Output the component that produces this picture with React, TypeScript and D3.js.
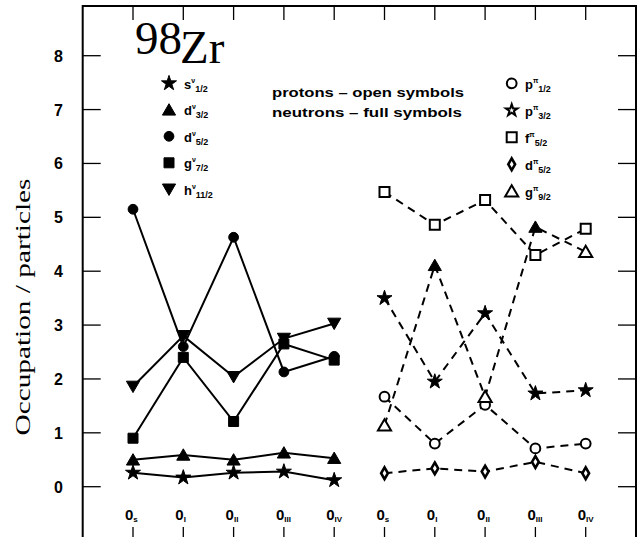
import React from "react";
import * as d3 from "d3";

// ---------- data ----------
const xLabelBase = ["0", "0", "0", "0", "0", "0", "0", "0", "0", "0"];
const xLabelSub = ["s", "I", "II", "III", "IV", "s", "I", "II", "III", "IV"];
const yTicks = [0, 1, 2, 3, 4, 5, 6, 7, 8];

// neutrons (left group, positions 0..4)
const neutronNames = ["s", "d", "d", "g", "h"];
const neutronSubs = ["1/2", "3/2", "5/2", "7/2", "11/2"];
const nS12 = [0.26, 0.17, 0.26, 0.28, 0.12];
const nD32 = [0.5, 0.59, 0.5, 0.63, 0.53];
const nD52 = [5.15, 2.6, 4.63, 2.13, 2.42];
const nG72 = [0.9, 2.4, 1.21, 2.65, 2.35];
const nH112 = [1.86, 2.8, 2.04, 2.75, 3.03];

// protons (right group, positions 5..9)
const protonNames = ["p", "p", "f", "d", "g"];
const protonSubs = ["1/2", "3/2", "5/2", "5/2", "9/2"];
const pP12 = [1.67, 0.8, 1.52, 0.71, 0.8];
const pP32 = [3.5, 1.95, 3.22, 1.73, 1.79];
const pF52 = [5.47, 4.86, 5.32, 4.3, 4.79];
const pD52 = [0.25, 0.34, 0.28, 0.46, 0.25];
const pG92 = [1.14, 4.11, 1.67, 4.82, 4.36];
const pG92Filled = [false, true, false, true, false];

// ---------- layout ----------
const W = 643;
const H = 537;
const left = 82.7;
const right = 636;
const top = 6;
const bottom = 545;

const x = d3.scaleLinear().domain([-1, 10]).range([left, right]);
const y = d3.scaleLinear().domain([0, 8]).range([486.7, 55.7]);

const SANS = "'Liberation Sans', Arial, Helvetica, sans-serif";
const SERIF = "'Liberation Serif', 'Times New Roman', serif";

type Shape = "star" | "tri" | "circle" | "square" | "triDown" | "diamond";

function symPath(shape: Shape, size: number) {
  const t =
    shape === "star"
      ? d3.symbolStar
      : shape === "tri" || shape === "triDown"
      ? d3.symbolTriangle
      : shape === "circle"
      ? d3.symbolCircle
      : shape === "square"
      ? d3.symbolSquare
      : d3.symbolDiamond;
  return d3.symbol().type(t).size(size)() as string;
}

const SIZES: Record<Shape, number> = {
  star: 70,
  tri: 75,
  triDown: 75,
  circle: 75,
  square: 100,
  diamond: 40,
};

function Marker({
  cx,
  cy,
  shape,
  filled,
  scale = 1,
}: {
  cx: number;
  cy: number;
  shape: Shape;
  filled: boolean;
  scale?: number;
}) {
  const rot = shape === "triDown" ? " rotate(180)" : "";
  const dy = shape === "tri" ? 1.5 : shape === "triDown" ? -1.5 : 0;
  const sw = filled ? 1 : shape === "diamond" ? 2.6 : 2;
  return (
    <path
      d={symPath(shape, SIZES[shape] * scale)}
      transform={`translate(${cx},${cy + dy})${rot}`}
      fill={filled ? "#000" : "#fff"}
      stroke="#000"
      strokeWidth={sw}
    />
  );
}

type Series = {
  values: number[];
  offset: number;
  shape: Shape;
  filled: boolean[];
  dashed: boolean;
};

const series: Series[] = [
  { values: nS12, offset: 0, shape: "star", filled: nS12.map(() => true), dashed: false },
  { values: nD32, offset: 0, shape: "tri", filled: nD32.map(() => true), dashed: false },
  { values: nD52, offset: 0, shape: "circle", filled: nD52.map(() => true), dashed: false },
  { values: nG72, offset: 0, shape: "square", filled: nG72.map(() => true), dashed: false },
  { values: nH112, offset: 0, shape: "triDown", filled: nH112.map(() => true), dashed: false },
  { values: pP12, offset: 5, shape: "circle", filled: pP12.map(() => false), dashed: true },
  { values: pP32, offset: 5, shape: "star", filled: pP32.map(() => true), dashed: true },
  { values: pF52, offset: 5, shape: "square", filled: pF52.map(() => false), dashed: true },
  { values: pD52, offset: 5, shape: "diamond", filled: pD52.map(() => false), dashed: true },
  { values: pG92, offset: 5, shape: "tri", filled: pG92Filled, dashed: true },
];

const neutronShapes: Shape[] = ["star", "tri", "circle", "square", "triDown"];
const protonShapes: Shape[] = ["circle", "star", "square", "diamond", "tri"];

function LegendLabel({
  lx,
  ly,
  base,
  sup,
  sub,
}: {
  lx: number;
  ly: number;
  base: string;
  sup: string;
  sub: string;
}) {
  return (
    <text x={lx} y={ly} fontFamily={SANS} fontWeight="bold" fontSize={13} fill="#000">
      <tspan>{base}</tspan>
      <tspan dy={-6} fontSize={7}>
        {sup}
      </tspan>
      <tspan dy={9} fontSize={9}>
        {sub}
      </tspan>
    </text>
  );
}

export default function App() {
  return (
    <svg
      width={W}
      height={H}
      style={{ position: "absolute", left: 0, top: 0, display: "block", background: "#fff" }}
    >
      <rect x={0} y={0} width={W} height={H} fill="#fff" />

      {/* frame */}
      <rect
        x={left}
        y={top}
        width={right - left}
        height={bottom - top}
        fill="none"
        stroke="#000"
        strokeWidth={2}
      />

      {/* y ticks & labels */}
      {yTicks.map((t) => (
        <g key={"y" + t}>
          <line x1={left} x2={left + 18} y1={y(t)} y2={y(t)} stroke="#000" strokeWidth={1.3} />
          <line x1={right - 18} x2={right} y1={y(t)} y2={y(t)} stroke="#000" strokeWidth={1.3} />
          <text
            x={63}
            y={y(t) + 6}
            textAnchor="end"
            fontFamily={SANS}
            fontWeight="bold"
            fontSize={16}
          >
            {t}
          </text>
        </g>
      ))}

      {/* x ticks & labels */}
      {xLabelBase.map((b, i) => (
        <g key={"x" + i}>
          <line x1={x(i)} x2={x(i)} y1={top} y2={top + 14} stroke="#000" strokeWidth={1.3} />
          <line x1={x(i)} x2={x(i)} y1={527} y2={bottom} stroke="#000" strokeWidth={1.3} />
          <text
            x={x(i) - 8}
            y={520}
            fontFamily={SANS}
            fontWeight="bold"
            fontSize={15}
          >
            <tspan>{b}</tspan>
            <tspan dy={2} fontSize={8}>
              {xLabelSub[i]}
            </tspan>
          </text>
        </g>
      ))}

      {/* y axis title */}
      <text
        transform={`translate(30,307) rotate(-90)`}
        textAnchor="middle"
        fontFamily={SERIF}
        fontSize={21}
        textLength={257}
        lengthAdjust="spacingAndGlyphs"
      >
        Occupation / particles
      </text>

      {/* title */}
      <text x={135} y={53.5} fontFamily={SERIF} fontSize={47}>
        98
      </text>
      <text x={180} y={63.3} fontFamily={SERIF} fontSize={47}>
        Zr
      </text>

      {/* note */}
      <text
        x={272}
        y={97}
        fontFamily={SANS}
        fontWeight="bold"
        fontSize={13}
        textLength={192}
        lengthAdjust="spacingAndGlyphs"
      >
        protons – open symbols
      </text>
      <text
        x={272}
        y={117}
        fontFamily={SANS}
        fontWeight="bold"
        fontSize={13}
        textLength={190}
        lengthAdjust="spacingAndGlyphs"
      >
        neutrons – full symbols
      </text>

      {/* lines */}
      {series.map((s, k) => {
        const gen = d3
          .line<number>()
          .x((_, i) => x(i + s.offset))
          .y((d) => y(d));
        return (
          <path
            key={"l" + k}
            d={gen(s.values) as string}
            fill="none"
            stroke="#000"
            strokeWidth={2}
            strokeDasharray={s.dashed ? "8,6" : undefined}
          />
        );
      })}

      {/* markers */}
      {series.map((s, k) =>
        s.values.map((v, i) => (
          <Marker
            key={`m${k}-${i}`}
            cx={x(i + s.offset)}
            cy={y(v)}
            shape={s.shape}
            filled={s.filled[i]}
          />
        ))
      )}

      {/* neutron legend */}
      {neutronShapes.map((sh, i) => (
        <g key={"nl" + i}>
          <Marker cx={169} cy={83.3 + i * 26.5} shape={sh} filled={true} />
          <LegendLabel
            lx={184}
            ly={88.5 + i * 26.5}
            base={neutronNames[i]}
            sup="ν"
            sub={neutronSubs[i]}
          />
        </g>
      ))}

      {/* proton legend */}
      {protonShapes.map((sh, i) => (
        <g key={"pl" + i}>
          <Marker
            cx={511.7}
            cy={83.3 + i * 27}
            shape={sh}
            filled={false}
            scale={sh === "star" ? 0.6 : 1}
          />
          <LegendLabel
            lx={525}
            ly={88.5 + i * 27}
            base={protonNames[i]}
            sup="π"
            sub={protonSubs[i]}
          />
        </g>
      ))}
    </svg>
  );
}
